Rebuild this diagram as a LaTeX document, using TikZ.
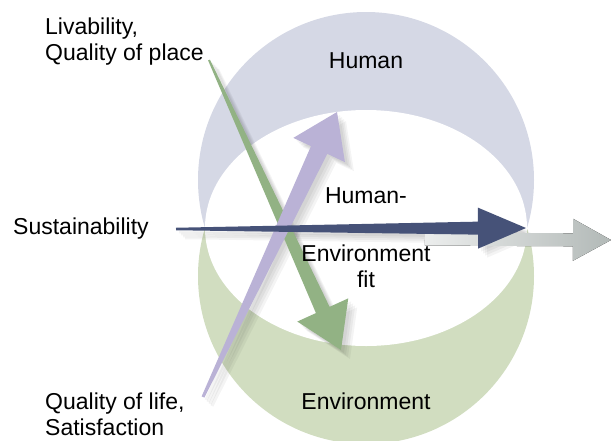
\documentclass[tikz,border=0pt]{standalone}
\usepackage{fontspec}
\setmainfont{Liberation Sans}
\usepackage{tikz}
\usetikzlibrary{calc}
\definecolor{ringHuman}{HTML}{D5D8E5}
\definecolor{ringEnv}{HTML}{D1DDC0}
\definecolor{arrGreen}{HTML}{92B284}
\definecolor{arrLav}{HTML}{BAB2D6}
\definecolor{arrBlue}{HTML}{465278}
\definecolor{arrGrey}{HTML}{B2B9B7}
\tikzset{
  lbl/.style={font=\fontsize{23}{26.5}\selectfont, inner sep=0pt},
  sidelbl/.style={lbl, align=left, anchor=north west},
  ringlbl/.style={lbl, align=center, anchor=base},
  softshadow/.style={black, opacity=0.045},
}
% tapered arrow: tail, tip, tail width, shaft width, head width, head length, fill
\newcommand{\taperarrow}[7]{%
  \coordinate (#2-hb) at ($(#2)!#6!(#1)$);
  \fill[#7] ($(#1)!#3/2!90:(#2)$) -- ($(#2-hb)!#4/2!-90:(#1)$)
    -- ($(#2-hb)!#5/2!-90:(#1)$) -- (#2) -- ($(#2-hb)!#5/2!90:(#1)$)
    -- ($(#2-hb)!#4/2!90:(#1)$) -- ($(#1)!#3/2!-90:(#2)$) -- cycle;
}

\begin{document}
\begin{tikzpicture}[x=1pt,y=-1pt]
\useasboundingbox (0,0) rectangle (611,440);
%% Rings
\begin{scope}
  \clip (0,0) rectangle (611,229);
  \fill[ringHuman] (366,180) circle[radius=168];
\end{scope}
\begin{scope}
  \clip (0,229) rectangle (611,440);
  \fill[ringEnv] (366,276) circle[radius=168];
\end{scope}
\fill[white] (366,228) ellipse[x radius=161, y radius=118];
%% Arrow ends
\coordinate (livtail) at (209,60);
\coordinate (livtip) at (341,350);
\coordinate (qoltail) at (203,397);
\coordinate (qoltip) at (337,112);
\coordinate (susttail) at (176,229);
\coordinate (susttip) at (526,228);
\coordinate (outtail) at (425,239);
\coordinate (outtip) at (611,240);
%% Soft shadows
\foreach \d in {3,5,7,9} {
  \begin{scope}[transform canvas={shift={(\d pt,-\d pt)}}]
    \taperarrow{livtail}{livtip}{2pt}{15pt}{56pt}{44pt}{softshadow}
    \taperarrow{qoltail}{qoltip}{3pt}{18pt}{57pt}{42pt}{softshadow}
    \taperarrow{susttail}{susttip}{2.5pt}{13pt}{41pt}{48pt}{softshadow}
  \end{scope}
}
%% Arrows
\taperarrow{livtail}{livtip}{2pt}{15pt}{56pt}{44pt}{arrGreen}
\taperarrow{qoltail}{qoltip}{3pt}{18pt}{57pt}{42pt}{arrLav}
\taperarrow{outtail}{outtip}{13pt}{13pt}{42pt}{38pt}{left color=arrGrey!25, right color=arrGrey}
\taperarrow{susttail}{susttip}{2.5pt}{13pt}{41pt}{48pt}{arrBlue}
%% Labels
\node[ringlbl] (human) at (366,68) {Human};
\node[ringlbl] (fitA) at (366,203) {Human-};
\node[ringlbl, anchor=north] (fitB) at (366,244.4) {Environment\\fit};
\node[ringlbl] (env) at (366,409) {Environment};
\node[sidelbl] (livlbl) at (45,17.5) {Livability,\\Quality of place};
\node[sidelbl] (qollbl) at (45,392.5) {Quality of life,\\Satisfaction};
\node[lbl, anchor=base west] (sustlbl) at (13,234) {Sustainability};
\end{tikzpicture}
\end{document}
